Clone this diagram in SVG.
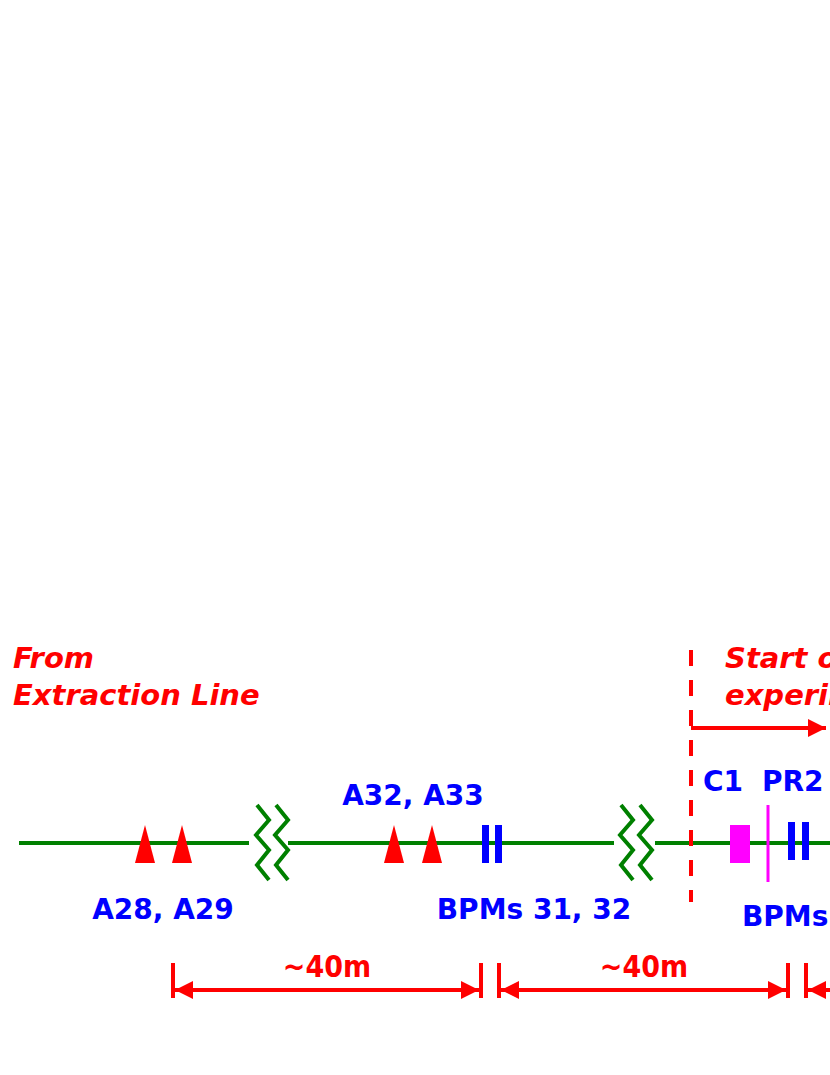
<svg xmlns="http://www.w3.org/2000/svg" width="830" height="1075" viewBox="0 0 830 1075">
<style>
.beam{stroke:#008000;stroke-width:4;fill:none}
.zz{stroke:#008000;stroke-width:4;fill:none}
.red{fill:#ff0000}
.bpm{fill:#0000ff}
.lbl{font-family:"DejaVu Sans",sans-serif;font-weight:bold;font-size:28px;fill:#0000ff}
.it{font-family:"DejaVu Sans",sans-serif;font-weight:bold;font-style:oblique;font-size:29px;fill:#ff0000}
.dim{font-family:"DejaVu Sans Condensed","DejaVu Sans",sans-serif;font-weight:bold;font-size:30px;fill:#ff0000}
.dl{stroke:#ff0000;stroke-width:4;fill:none}
</style>
<defs>
<marker id="ah" viewBox="0 0 10 10" refX="10" refY="5" markerWidth="6" markerHeight="4.5" orient="auto-start-reverse" markerUnits="strokeWidth"><path d="M0,0L10,5L0,10z" fill="#ff0000"/></marker>
<g id="zig"><polyline class="zz" points="0,0 12,15 -1,30 12,45 0,60 12,75"/><polyline class="zz" points="19,0 31,15 18,30 31,45 19,60 31,75"/></g>
</defs>
<rect width="830" height="1075" fill="#fff"/>
<g id="connectors">
<line class="beam" x1="19" y1="843" x2="249" y2="843"/>
<line class="beam" x1="288" y1="843" x2="614" y2="843"/>
<line class="beam" x1="655" y1="843" x2="830" y2="843"/>
<use href="#zig" x="257" y="805"/>
<use href="#zig" x="621" y="805"/>
<line stroke="#ff0000" stroke-width="4" stroke-dasharray="16,14" x1="691" y1="650" x2="691" y2="902"/>
<line class="dl" x1="691" y1="728" x2="826" y2="728" marker-end="url(#ah)"/>
<line class="dl" x1="173" y1="963" x2="173" y2="998"/>
<line class="dl" x1="481" y1="963" x2="481" y2="998"/>
<line class="dl" x1="499" y1="963" x2="499" y2="998"/>
<line class="dl" x1="788" y1="963" x2="788" y2="998"/>
<line class="dl" x1="806" y1="963" x2="806" y2="998"/>
<line class="dl" x1="175" y1="990" x2="479" y2="990" marker-start="url(#ah)" marker-end="url(#ah)"/>
<line class="dl" x1="501" y1="990" x2="786" y2="990" marker-start="url(#ah)" marker-end="url(#ah)"/>
<line class="dl" x1="808" y1="990" x2="840" y2="990" marker-start="url(#ah)"/>
</g>
<g id="labels">
<text class="it" x="13" y="668">From</text>
<text class="it" x="13" y="705">Extraction Line</text>
<text class="it" x="725" y="668">Start of</text>
<text class="it" x="725" y="705">experiment</text>
<text class="dim" x="327" y="977" text-anchor="middle">~40m</text>
<text class="dim" x="644" y="977" text-anchor="middle">~40m</text>
</g>
<g id="A28A29"><path class="red" d="M145,825L155,863L135,863z"/><path class="red" d="M182,825L192,863L172,863z"/><text class="lbl" x="163" y="919" text-anchor="middle">A28, A29</text></g>
<g id="A32A33"><path class="red" d="M394,825L404,863L384,863z"/><path class="red" d="M432,825L442,863L422,863z"/><text class="lbl" x="413" y="805" text-anchor="middle">A32, A33</text></g>
<g id="BPM3132"><rect class="bpm" x="482" y="825" width="7" height="38"/><rect class="bpm" x="495" y="825" width="7" height="38"/><text class="lbl" x="534" y="919" text-anchor="middle">BPMs 31, 32</text></g>
<g id="C1"><rect x="730" y="825" width="20" height="38" fill="#ff00ff"/><text class="lbl" x="703" y="791">C1</text></g>
<g id="PR2"><line x1="768" y1="805" x2="768" y2="882" stroke="#ff00ff" stroke-width="3"/><text class="lbl" x="762" y="791">PR2</text></g>
<g id="BPMs"><rect class="bpm" x="788" y="822" width="7" height="38"/><rect class="bpm" x="802" y="822" width="7" height="38"/><text class="lbl" x="742" y="926">BPMs</text></g>
</svg>
